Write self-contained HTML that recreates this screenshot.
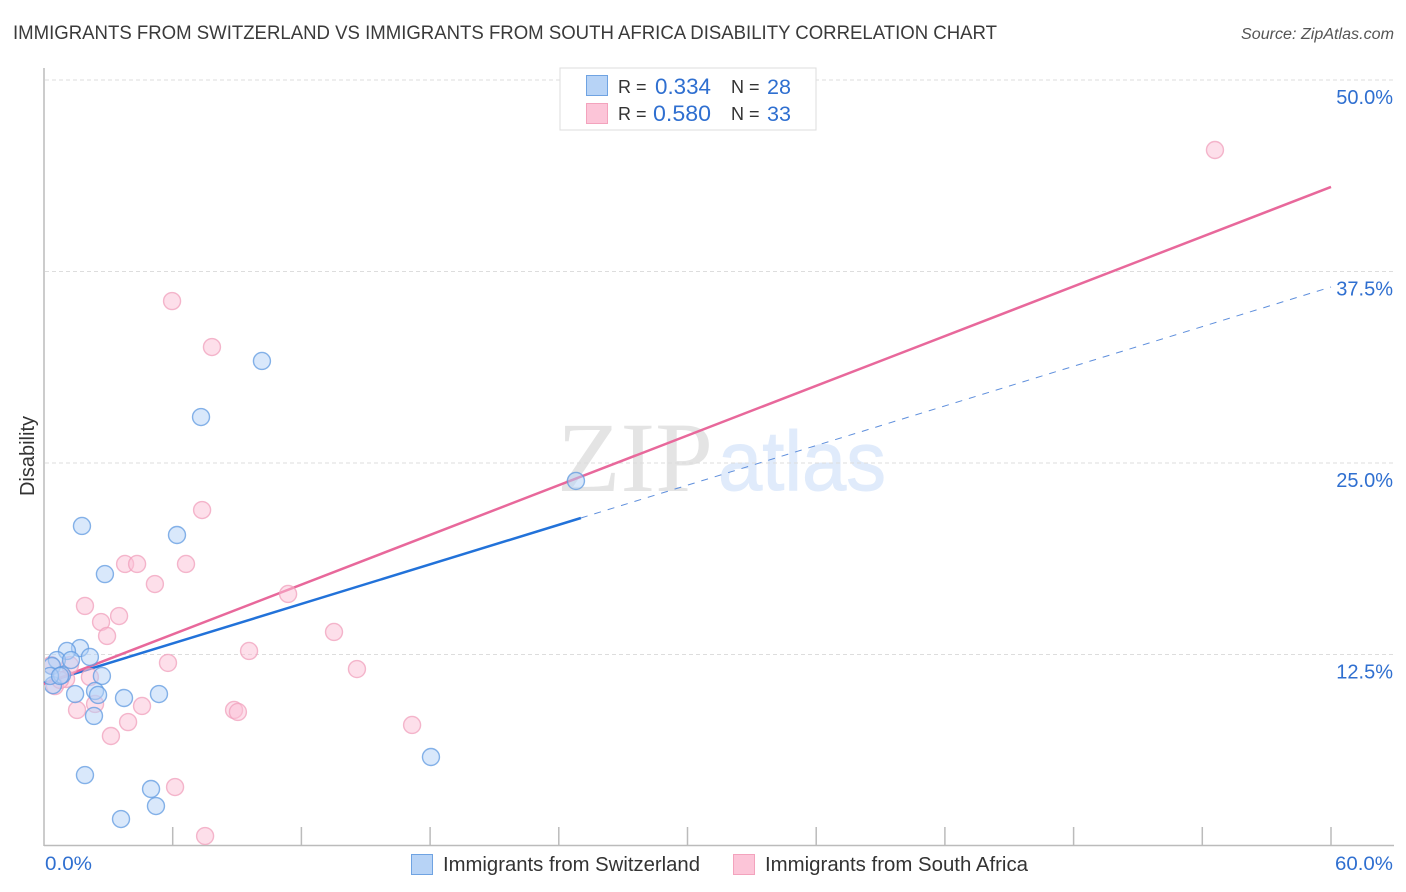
<!DOCTYPE html>
<html lang="en">
<head>
<meta charset="utf-8">
<title>Immigrants from Switzerland vs Immigrants from South Africa Disability Correlation Chart</title>
<style>
html,body{margin:0;padding:0;background:#fff;width:1406px;height:892px;overflow:hidden}
svg{display:block;font-family:"Liberation Sans",sans-serif}
</style>
</head>
<body>
<svg id="chart" width="1406" height="892" viewBox="0 0 1406 892" xmlns="http://www.w3.org/2000/svg">
  <defs>
    <clipPath id="plot-clip"><rect x="45" y="68" width="1349" height="777"/></clipPath>
  </defs>
  <text x="13" y="39" font-size="19.5" fill="#3a3a3a" textLength="984" lengthAdjust="spacingAndGlyphs">IMMIGRANTS FROM SWITZERLAND VS IMMIGRANTS FROM SOUTH AFRICA DISABILITY CORRELATION CHART</text>
  <text x="1394" y="39" font-size="15.5" font-style="italic" fill="#555" text-anchor="end" textLength="153" lengthAdjust="spacingAndGlyphs">Source: ZipAtlas.com</text>

  <g>
    <text x="557" y="491" font-family="'Liberation Serif',serif" font-size="100" fill="#e4e4e4" textLength="156" lengthAdjust="spacingAndGlyphs">ZIP</text>
    <text x="718" y="490" font-size="84" fill="#e0ebfb" stroke="#e0ebfb" stroke-width="1" textLength="168" lengthAdjust="spacingAndGlyphs">atlas</text>
  </g>

  <g id="grid"></g>
  <g id="axes">
    <line x1="44" y1="68" x2="44" y2="846" stroke="#bbb" stroke-width="1.5"/>
    <line x1="44" y1="845.5" x2="1394" y2="845.5" stroke="#bbb" stroke-width="1.5"/>
  </g>
  <g id="x-ticks"></g>
  <g id="y-labels"></g>
  <text transform="translate(34,456) rotate(-90)" font-size="20" fill="#333" text-anchor="middle">Disability</text>

  <g id="trends"></g>
  <g id="points-pink" clip-path="url(#plot-clip)"></g>
  <g id="points-blue" clip-path="url(#plot-clip)"></g>

  <g>
    <rect x="560" y="68" width="256" height="62" fill="#fff" stroke="#ddd" stroke-width="1"/>
    <rect x="586.5" y="75.5" width="21" height="20" fill="#b7d3f6" stroke="#6fa3e2" stroke-width="1"/>
    <rect x="586.5" y="103.5" width="21" height="20" fill="#fcc5d8" stroke="#f3a3bd" stroke-width="1"/>
    <text x="618" y="93" font-size="18" fill="#333">R =</text>
    <text x="711" y="94" font-size="22" fill="#2f6fd0" text-anchor="end" textLength="56" lengthAdjust="spacingAndGlyphs">0.334</text>
    <text x="731" y="93" font-size="18" fill="#333">N =</text>
    <text x="767" y="94" font-size="21" fill="#2f6fd0" textLength="24" lengthAdjust="spacingAndGlyphs">28</text>
    <text x="618" y="120" font-size="18" fill="#333">R =</text>
    <text x="711" y="121" font-size="22" fill="#2f6fd0" text-anchor="end" textLength="58" lengthAdjust="spacingAndGlyphs">0.580</text>
    <text x="731" y="120" font-size="18" fill="#333">N =</text>
    <text x="767" y="121" font-size="21" fill="#2f6fd0" textLength="24" lengthAdjust="spacingAndGlyphs">33</text>
  </g>

  <text x="45" y="870" font-size="19.5" fill="#2f6fd0" textLength="47" lengthAdjust="spacingAndGlyphs">0.0%</text>
  <text x="1393" y="870" font-size="19.5" fill="#2f6fd0" text-anchor="end" textLength="58" lengthAdjust="spacingAndGlyphs">60.0%</text>

  <g>
    <rect x="411.5" y="854.5" width="21" height="20" fill="#b7d3f6" stroke="#6fa3e2" stroke-width="1"/>
    <text x="443" y="871" font-size="20" fill="#333" textLength="257" lengthAdjust="spacingAndGlyphs">Immigrants from Switzerland</text>
    <rect x="733.5" y="854.5" width="21" height="20" fill="#fcc5d8" stroke="#f3a3bd" stroke-width="1"/>
    <text x="765" y="871" font-size="20" fill="#333" textLength="263" lengthAdjust="spacingAndGlyphs">Immigrants from South Africa</text>
  </g>
</svg>
<script>
const xTickValues = [6, 12, 18, 24, 30, 36, 42, 48, 54, 60];
const yTickValues = [50, 37.5, 25, 12.5];
const yTickLabels = ['50.0%', '37.5%', '25.0%', '12.5%'];

const switzerlandX = [10.16, 7.32, 24.8, 6.2, 1.77, 2.84, 1.68, 1.07, 0.6, 2.14, 1.26, 2.7, 0.37, 0.42, 0.84, 0.28, 1.45, 2.38, 2.52, 3.73, 5.36, 2.33, 18.04, 1.91, 4.99, 5.22, 3.59, 0.75];
const switzerlandY = [31.66, 28.0, 23.83, 20.3, 20.89, 17.75, 12.92, 12.73, 12.14, 12.34, 12.14, 11.1, 11.75, 10.5, 11.16, 11.1, 9.92, 10.12, 9.86, 9.66, 9.92, 8.49, 5.81, 4.63, 3.72, 2.61, 1.76, 11.1];

const southAfricaX = [54.59, 5.97, 7.83, 7.37, 3.78, 4.34, 6.62, 5.17, 11.38, 1.91, 3.5, 2.66, 2.94, 13.52, 9.56, 5.78, 14.59, 2.14, 0.33, 1.21, 1.03, 0.51, 2.38, 4.57, 8.86, 9.04, 1.54, 3.92, 17.16, 3.12, 6.11, 7.51, 0.75];
const southAfricaY = [45.43, 35.57, 32.57, 21.93, 18.41, 18.41, 18.41, 17.1, 16.45, 15.67, 15.01, 14.62, 13.71, 13.97, 12.73, 11.95, 11.55, 11.03, 11.81, 11.81, 10.9, 10.44, 9.27, 9.14, 8.88, 8.75, 8.88, 8.09, 7.9, 7.18, 3.85, 0.65, 10.84];

const switzerlandTrendX = [0, 25.03, 60];
const switzerlandTrendY = [10.64, 21.41, 36.49];
const southAfricaTrendX = [0, 60];
const southAfricaTrendY = [10.57, 43.02];

const NS = 'http://www.w3.org/2000/svg';
function xScale(v) { return 44 + v * 21.45; }
function yScale(v) { return 846 - v * 15.32; }
function make(tag, attrs, parent) {
  const el = document.createElementNS(NS, tag);
  for (const k in attrs) el.setAttribute(k, attrs[k]);
  parent.appendChild(el);
  return el;
}

const grid = document.getElementById('grid');
const yLabels = document.getElementById('y-labels');
yTickValues.forEach(function (v, i) {
  const line = make('line', { x1: 45, x2: 1393, y1: yScale(v), y2: yScale(v), stroke: '#ddd', 'stroke-width': 1, 'stroke-dasharray': '4 3' }, grid);
  
  
  const label = make('text', { x: 1393, y: yScale(v) + 24, 'font-size': 20, fill: '#2f6fd0', 'text-anchor': 'end' }, yLabels);
  
  
  label.textContent = yTickLabels[i];
});

const xTicks = document.getElementById('x-ticks');
xTickValues.forEach(function (v) {
  const tick = make('line', { x1: xScale(v), x2: xScale(v), y1: 827, y2: 845, stroke: '#bbb', 'stroke-width': 1.5 }, xTicks);
  
  
});

function drawPoints(groupId, xs, ys, fill, stroke) {
  const group = document.getElementById(groupId);
  xs.forEach(function (x, i) {
    const c = make('circle', { cx: xScale(x), cy: yScale(ys[i]), r: 8.5, fill: fill, 'fill-opacity': 0.5, stroke: stroke, 'stroke-opacity': 0.75, 'stroke-width': 1.4 }, group);
    
    
  });
}
drawPoints('points-pink', southAfricaX, southAfricaY, '#fcc0d5', '#f0a0bc');
drawPoints('points-blue', switzerlandX, switzerlandY, '#b3d1f7', '#5f9ae0');

const trends = document.getElementById('trends');
const blueDash = make('line', { x1: xScale(switzerlandTrendX[1]), y1: yScale(switzerlandTrendY[1]), x2: xScale(switzerlandTrendX[2]), y2: yScale(switzerlandTrendY[2]), stroke: '#5f8fdc', 'stroke-width': 1, 'stroke-dasharray': '7 7' }, trends);


const blueSolid = make('line', { x1: xScale(switzerlandTrendX[0]), y1: yScale(switzerlandTrendY[0]), x2: xScale(switzerlandTrendX[1]), y2: yScale(switzerlandTrendY[1]), stroke: '#2272d9', 'stroke-width': 2.5 }, trends);


const pinkSolid = make('line', { x1: xScale(southAfricaTrendX[0]), y1: yScale(southAfricaTrendY[0]), x2: xScale(southAfricaTrendX[1]), y2: yScale(southAfricaTrendY[1]), stroke: '#e8689b', 'stroke-width': 2.5 }, trends);


</script>
</body>
</html>
